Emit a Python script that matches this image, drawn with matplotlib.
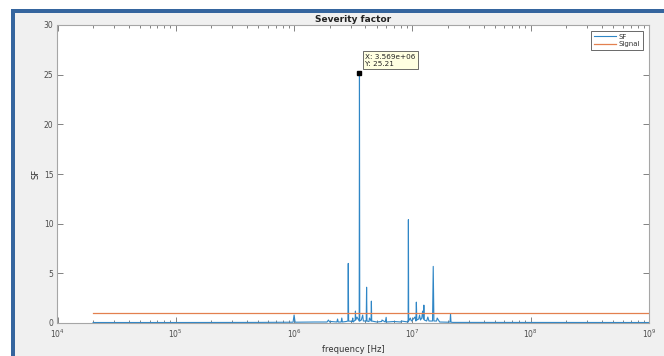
import matplotlib
matplotlib.use("Agg")
import matplotlib.pyplot as plt
from matplotlib.patches import Rectangle
from matplotlib.ticker import LogLocator, NullFormatter

# Severity factor spectrum (frequency in Hz, SF value)
sf_freq = [2.0e4, 1.0e5, 5.0e5, 9.8e5, 1.0e6, 1.02e6, 1.5e6, 1.9e6, 1.95e6, 2.0e6,
           2.05e6, 2.3e6, 2.33e6, 2.36e6, 2.5e6, 2.53e6, 2.56e6, 2.75e6, 2.85e6, 2.87e6,
           2.89e6, 3.1e6, 3.13e6, 3.16e6, 3.28e6, 3.3e6, 3.32e6, 3.4e6, 3.55e6, 3.569e6,
           3.59e6, 3.7e6, 3.8e6, 3.85e6, 4.07e6, 4.1e6, 4.13e6, 4.3e6, 4.33e6, 4.47e6,
           4.5e6, 4.53e6, 5.0e6, 5.5e6, 5.53e6, 5.9e6, 6.0e6, 6.05e6, 7.0e6, 8.0e6,
           8.05e6, 9.2e6, 9.25e6, 9.3e6, 9.6e6, 9.8e6, 1.0e7, 1.05e7, 1.07e7, 1.08e7,
           1.09e7, 1.13e7, 1.15e7, 1.17e7, 1.2e7, 1.22e7, 1.24e7, 1.25e7, 1.26e7, 1.32e7,
           1.35e7, 1.38e7, 1.48e7, 1.5e7, 1.52e7, 1.6e7, 1.62e7, 1.7e7, 2.0e7, 2.08e7,
           2.1e7, 2.12e7, 2.2e7, 1.0e9]
sf_val = [0.05, 0.05, 0.06, 0.08, 0.8, 0.08, 0.1, 0.1, 0.3, 0.1,
          0.15, 0.1, 0.4, 0.1, 0.1, 0.5, 0.1, 0.15, 0.2, 6.0,
          0.2, 0.15, 0.5, 0.1, 0.3, 1.2, 0.3, 0.6, 0.2, 25.21,
          0.2, 0.3, 0.8, 0.2, 0.2, 3.6, 0.2, 0.15, 0.5, 0.2,
          2.2, 0.2, 0.1, 0.15, 0.3, 0.1, 0.57, 0.1, 0.15, 0.1,
          0.2, 0.1, 10.4, 0.2, 0.5, 0.2, 0.3, 0.6, 0.2, 2.1,
          0.3, 0.4, 0.8, 0.3, 0.5, 1.2, 0.4, 1.8, 0.3, 0.2,
          0.6, 0.2, 0.2, 5.7, 0.2, 0.2, 0.5, 0.1, 0.08, 0.1,
          0.9, 0.08, 0.06, 0.05]

# Reference signal level
sig_freq = [2.0e4, 1.0e9]
sig_val = [1.0, 1.0]

# Data tip
tip_x = 3.569e6
tip_y = 25.21

W, H = 664, 356
fig = plt.figure(figsize=(W / 100, H / 100), dpi=100, facecolor="white")

# Window frame: gray client area with blue border on top and left
fig.patches.append(Rectangle((15 / W, 0), 1, (H - 13) / H, transform=fig.transFigure,
                             facecolor="#f0f0f0", edgecolor="none", zorder=-3))
fig.patches.append(Rectangle((11 / W, (H - 13) / H), 1, 4 / H, transform=fig.transFigure,
                             facecolor="#35659e", edgecolor="none", zorder=-2))
fig.patches.append(Rectangle((11 / W, 0), 4 / W, (H - 9) / H, transform=fig.transFigure,
                             facecolor="#35659e", edgecolor="none", zorder=-2))

left, right, top, bottom = 57.5, 649, 25, 323
ax = fig.add_axes([left / W, (H - bottom) / H, (right - left) / W, (bottom - top) / H])
ax.set_facecolor("white")

ax.plot(sf_freq, sf_val, color="#2f86c6", lw=0.8, label="SF")
ax.plot(sig_freq, sig_val, color="#e3804f", lw=0.9, label="Signal")

ax.set_xscale("log")
ax.set_xlim(1e4, 1e9)
ax.set_ylim(0, 30)
ax.set_yticks([0, 5, 10, 15, 20, 25, 30])
ax.xaxis.set_minor_locator(LogLocator(base=10, subs=range(2, 10), numticks=20))
ax.xaxis.set_minor_formatter(NullFormatter())

tick_col = "#4d4d4d"
for s in ax.spines.values():
    s.set_color("#a6a6a6")
    s.set_linewidth(0.8)
ax.tick_params(which="both", direction="in", top=True, right=True,
               colors="#6e6e6e", labelcolor=tick_col, labelsize=5.5, width=0.6)
ax.tick_params(which="major", length=4, pad=3)
ax.tick_params(which="minor", length=2.5)

ax.set_title("Severity factor", fontsize=6.5, fontweight="bold", color="#222222", pad=2)
ax.set_xlabel("frequency [Hz]", fontsize=6, color="#333333", labelpad=4)
ax.set_ylabel("SF", fontsize=6, color="#333333", labelpad=2)

leg = ax.legend(loc="upper right", fontsize=5, frameon=True, fancybox=False,
                handlelength=3.2, handletextpad=0.4, borderpad=0.35,
                labelspacing=0.2, borderaxespad=0.9)
leg.get_frame().set_edgecolor("#262626")
leg.get_frame().set_linewidth(0.6)
for t in leg.get_texts():
    t.set_color("#333333")

# Data tip marker and box
ax.plot([tip_x], [tip_y], marker="s", color="black", ms=3.5, zorder=5)
ax.annotate(f"X: {tip_x:.3e}\nY: {tip_y:.2f}",
            xy=(tip_x, tip_y), xytext=(4, 4), textcoords="offset points",
            fontsize=5.2, color="#222222", ha="left", va="bottom", linespacing=1.3,
            bbox=dict(boxstyle="square,pad=0.3", facecolor="#ffffe1",
                      edgecolor="#333333", linewidth=0.5), zorder=6)

fig.savefig("out.png", dpi=100, facecolor=fig.get_facecolor())
